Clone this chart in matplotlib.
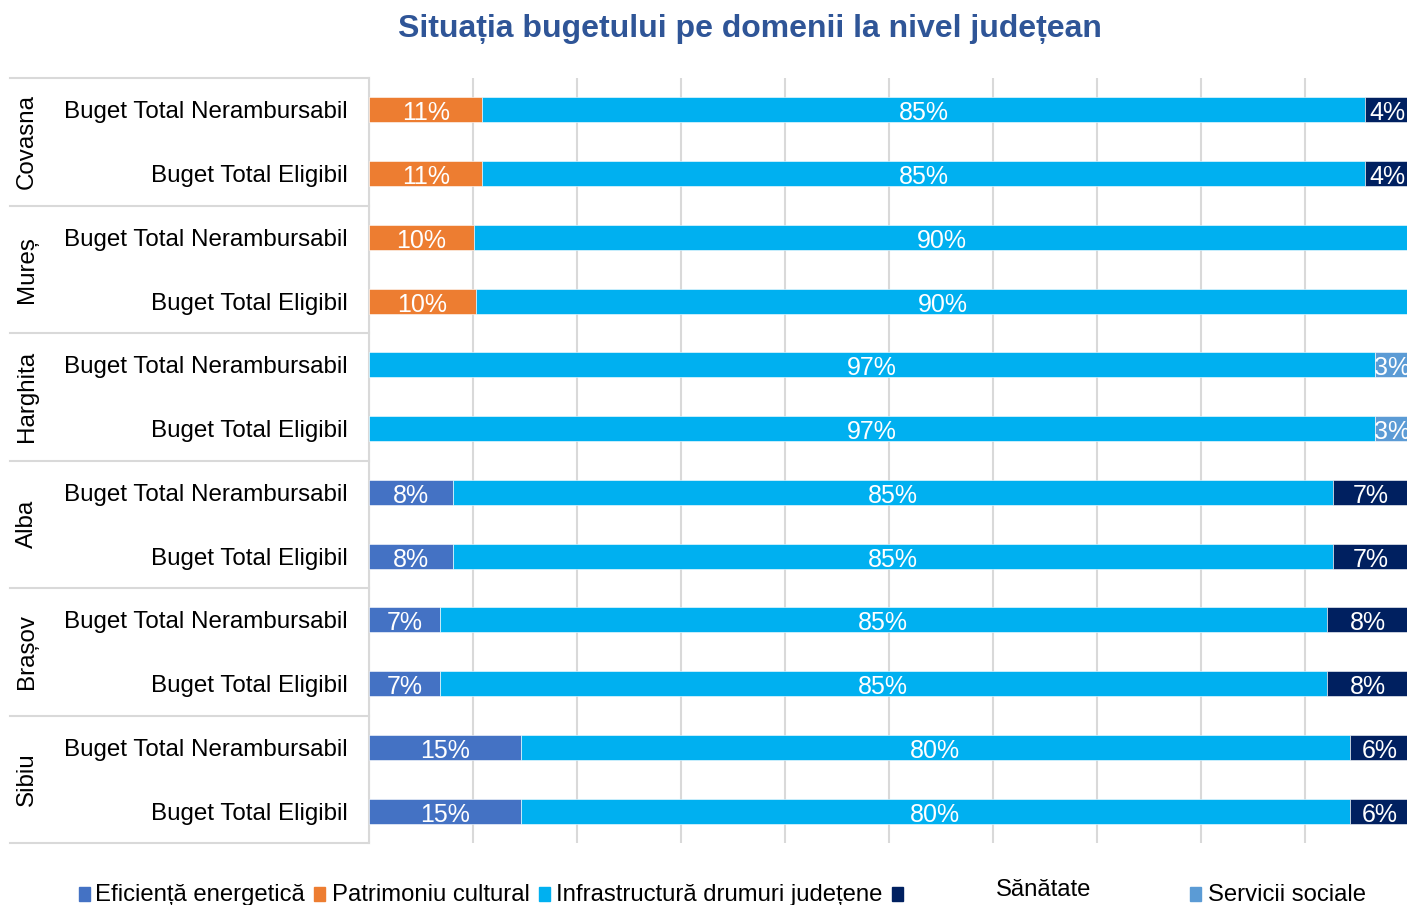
import numpy as np
import matplotlib.pyplot as plt
from matplotlib.patches import Rectangle
from matplotlib.transforms import blended_transform_factory

plt.rcParams['font.family'] = ['Liberation Sans', 'DejaVu Sans']

counties = ["Covasna", "Mureș", "Harghita", "Alba", "Brașov", "Sibiu"]
budgets = ["Buget Total Nerambursabil", "Buget Total Eligibil"]

# shares per bar, top to bottom (Covasna N, Covasna E, Mures N, ...)
eficienta = [0, 0, 0, 0, 0, 0, 8.1, 8.1, 6.8, 6.8, 14.6, 14.6]
patrimoniu = [10.9, 10.9, 10.1, 10.3, 0, 0, 0, 0, 0, 0, 0, 0]
drumuri = [84.9, 84.9, 89.9, 89.7, 96.7, 96.7, 84.6, 84.6, 85.3, 85.3, 79.7, 79.7]
sanatate = [4.2, 4.2, 0, 0, 0, 0, 7.3, 7.3, 7.9, 7.9, 5.7, 5.7]
sociale = [0, 0, 0, 0, 3.3, 3.3, 0, 0, 0, 0, 0, 0]

series = [
    ("Eficiență energetică", eficienta, "#4472C4"),
    ("Patrimoniu cultural", patrimoniu, "#ED7D31"),
    ("Infrastructură drumuri județene", drumuri, "#00B0F0"),
    ("Sănătate", sanatate, "#002060"),
    ("Servicii sociale", sociale, "#5B9BD5"),
]

W, H = 1407, 905
fig = plt.figure(figsize=(W / 100, H / 100), dpi=100)
ax = fig.add_axes([369 / W, 1 - 843 / H, 1040 / W, (843 - 78) / H])

y = np.arange(len(counties) * 2)
left = np.zeros(len(y))
for name, vals, col in series:
    vals = np.array(vals, dtype=float)
    bars = ax.barh(y, vals, left=left, height=0.39, color=col,
                   edgecolor="white", linewidth=0.4, zorder=3)
    labels = [f"{v:.0f}%" if v > 0 else "" for v in vals]
    anns = ax.bar_label(bars, labels=labels, label_type="center", color="white", fontsize=18)
    for a in anns:
        a.xyann = (0, -2.5)
    left += vals

ax.set_xlim(0, 100)
ax.set_ylim(len(y) - 0.5, -0.5)
ax.set_xticks(np.arange(0, 101, 10))
ax.set_xticklabels([])
ax.tick_params(axis="x", length=0)
ax.grid(axis="x", color="#D9D9D9", linewidth=1.5, zorder=0)
ax.set_yticks(y)
ax.set_yticklabels(budgets * len(counties), fontsize=17.4)
ax.tick_params(axis="y", length=0, pad=15.5)
for s in ["top", "right", "bottom"]:
    ax.spines[s].set_visible(False)
ax.spines["left"].set_color("#D9D9D9")
ax.spines["left"].set_linewidth(1.5)

# county column and group separators
tr = blended_transform_factory(ax.transAxes, ax.transData)
for i, c in enumerate(counties):
    ax.text(-0.3288, 2 * i + 0.5, c, rotation=90, ha="center", va="center",
            fontsize=17.4, transform=tr)
for b in np.arange(len(counties) + 1) * 2 - 0.5:
    ax.plot([-0.345, 0], [b, b], color="#D9D9D9", lw=1.5, transform=tr, clip_on=False)

fig.text(750 / W, 1 - 29 / H, "Situația bugetului pe domenii la nivel județean",
         ha="center", va="center", fontsize=23, fontweight="bold", color="#2F5597")

# legend (as drawn in the original, with the odd "Sănătate" placement)
leg = [(79, 95, "Eficiență energetică", "#4472C4"),
       (314, 332, "Patrimoniu cultural", "#ED7D31"),
       (539, 556, "Infrastructură drumuri județene", "#00B0F0"),
       (892, None, "", "#002060"),
       (1190, 1208, "Servicii sociale", "#5B9BD5")]
for sx, tx, txt, col in leg:
    fig.patches.append(Rectangle((sx / W, 1 - 901 / H), 11 / W, 14 / H,
                                 color=col, transform=fig.transFigure))
    if tx:
        fig.text(tx / W, 1 - 895 / H, txt, ha="left", va="center", fontsize=17.2)
fig.text(1044 / W, 1 - 890 / H, "Sănătate", ha="center", va="center", fontsize=17.2)

fig.savefig("out.png", dpi=100)
